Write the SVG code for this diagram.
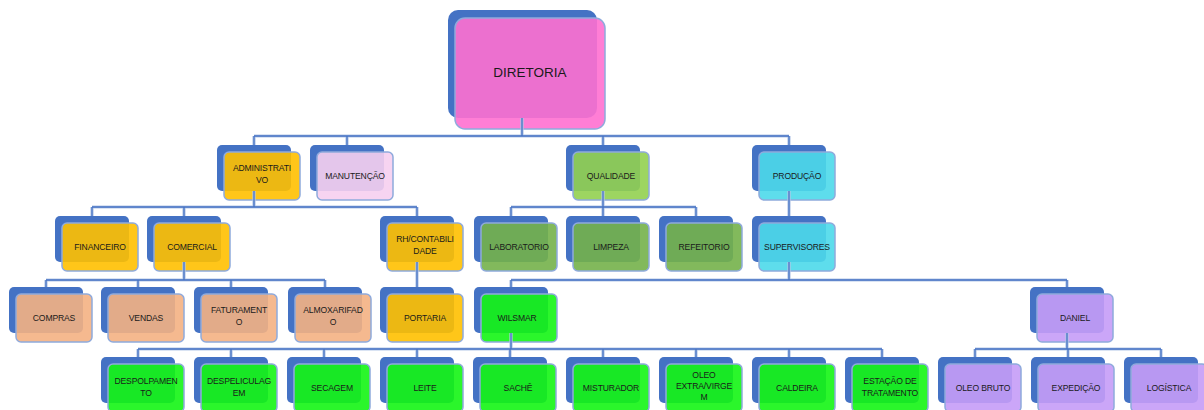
<svg xmlns="http://www.w3.org/2000/svg" width="1204" height="410" viewBox="0 0 1204 410">
<style>
.bk{fill:#4472C4}
.fr{stroke:#8FAADC;stroke-width:1.5;fill-opacity:0.9}
.t{font-family:"Liberation Sans",Arial,sans-serif;font-size:8.6px;fill:#1a1a1a;text-anchor:middle;letter-spacing:-0.15px}
.big{font-size:13.5px;letter-spacing:0}
.pink{fill:#FF70D0}
.yel{fill:#FFC000}
.lil{fill:#F6CFEF}
.lg{fill:#92D050}
.cy{fill:#4DD9EA}
.dg{fill:#74B14A}
.pe{fill:#F4B183}
.gr{fill:#14F514}
.lv{fill:#C59CF7}
.halo{fill:none;stroke:#B4C7E7;stroke-width:3.2}
.ln{fill:none;stroke:#4472C4;stroke-width:1.3}
</style>
<defs>
<rect id="b" class="bk" width="74" height="46" rx="5"/>
</defs>
<g id="nodes">
<g id="diretoria"><rect class="bk" x="448" y="10" width="149" height="108" rx="10"/><rect class="fr pink" x="455" y="18" width="150" height="111" rx="10"/><text class="t big" x="530" y="77">DIRETORIA</text></g>

<g id="administrativo"><use href="#b" x="217" y="145"/><rect class="fr yel" x="224" y="152" width="76" height="48" rx="5"/><text class="t" x="262" y="171">ADMINISTRATI</text><text class="t" x="262" y="183">VO</text></g>
<g id="manutencao"><use href="#b" x="310" y="145"/><rect class="fr lil" x="317" y="152" width="76" height="48" rx="5"/><text class="t" x="355" y="179">MANUTENÇÃO</text></g>
<g id="qualidade"><use href="#b" x="566" y="145"/><rect class="fr lg" x="573" y="152" width="76" height="48" rx="5"/><text class="t" x="611" y="179">QUALIDADE</text></g>
<g id="producao"><use href="#b" x="752" y="145"/><rect class="fr cy" x="759" y="152" width="76" height="48" rx="5"/><text class="t" x="797" y="179">PRODUÇÃO</text></g>

<g id="financeiro"><use href="#b" x="55" y="216"/><rect class="fr yel" x="62" y="223" width="76" height="48" rx="5"/><text class="t" x="100" y="250">FINANCEIRO</text></g>
<g id="comercial"><use href="#b" x="147" y="216"/><rect class="fr yel" x="154" y="223" width="76" height="48" rx="5"/><text class="t" x="192" y="250">COMERCIAL</text></g>
<g id="rh"><use href="#b" x="380" y="216"/><rect class="fr yel" x="387" y="223" width="76" height="48" rx="5"/><text class="t" x="425" y="242">RH/CONTABILI</text><text class="t" x="425" y="254">DADE</text></g>
<g id="laboratorio"><use href="#b" x="474" y="216"/><rect class="fr dg" x="481" y="223" width="76" height="48" rx="5"/><text class="t" x="519" y="250">LABORATORIO</text></g>
<g id="limpeza"><use href="#b" x="566" y="216"/><rect class="fr dg" x="573" y="223" width="76" height="48" rx="5"/><text class="t" x="611" y="250">LIMPEZA</text></g>
<g id="refeitorio"><use href="#b" x="659" y="216"/><rect class="fr dg" x="666" y="223" width="76" height="48" rx="5"/><text class="t" x="704" y="250">REFEITORIO</text></g>
<g id="supervisores"><use href="#b" x="752" y="216"/><rect class="fr cy" x="759" y="223" width="76" height="48" rx="5"/><text class="t" x="797" y="250">SUPERVISORES</text></g>

<g id="compras"><use href="#b" x="9" y="287"/><rect class="fr pe" x="16" y="294" width="76" height="48" rx="5"/><text class="t" x="54" y="321">COMPRAS</text></g>
<g id="vendas"><use href="#b" x="101" y="287"/><rect class="fr pe" x="108" y="294" width="76" height="48" rx="5"/><text class="t" x="146" y="321">VENDAS</text></g>
<g id="faturamento"><use href="#b" x="194" y="287"/><rect class="fr pe" x="201" y="294" width="76" height="48" rx="5"/><text class="t" x="239" y="313">FATURAMENT</text><text class="t" x="239" y="325">O</text></g>
<g id="almoxarifado"><use href="#b" x="288" y="287"/><rect class="fr pe" x="295" y="294" width="76" height="48" rx="5"/><text class="t" x="333" y="313">ALMOXARIFAD</text><text class="t" x="333" y="325">O</text></g>
<g id="portaria"><use href="#b" x="380" y="287"/><rect class="fr yel" x="387" y="294" width="76" height="48" rx="5"/><text class="t" x="425" y="321">PORTARIA</text></g>
<g id="wilsmar"><use href="#b" x="474" y="287"/><rect class="fr gr" x="481" y="294" width="76" height="48" rx="5"/><text class="t" x="517" y="321">WILSMAR</text></g>
<g id="daniel"><use href="#b" x="1030" y="287"/><rect class="fr lv" x="1037" y="294" width="76" height="48" rx="5"/><text class="t" x="1075" y="321">DANIEL</text></g>

<g id="despolpamento"><use href="#b" x="101" y="357"/><rect class="fr gr" x="108" y="364" width="76" height="48" rx="5"/><text class="t" x="146" y="384">DESPOLPAMEN</text><text class="t" x="146" y="396">TO</text></g>
<g id="despeliculagem"><use href="#b" x="194" y="357"/><rect class="fr gr" x="201" y="364" width="76" height="48" rx="5"/><text class="t" x="239" y="384">DESPELICULAG</text><text class="t" x="239" y="396">EM</text></g>
<g id="secagem"><use href="#b" x="287" y="357"/><rect class="fr gr" x="294" y="364" width="76" height="48" rx="5"/><text class="t" x="332" y="391">SECAGEM</text></g>
<g id="leite"><use href="#b" x="380" y="357"/><rect class="fr gr" x="387" y="364" width="76" height="48" rx="5"/><text class="t" x="425" y="391">LEITE</text></g>
<g id="sache"><use href="#b" x="473" y="357"/><rect class="fr gr" x="480" y="364" width="76" height="48" rx="5"/><text class="t" x="518" y="391">SACHÊ</text></g>
<g id="misturador"><use href="#b" x="566" y="357"/><rect class="fr gr" x="573" y="364" width="76" height="48" rx="5"/><text class="t" x="611" y="391">MISTURADOR</text></g>
<g id="oleo-extra"><use href="#b" x="659" y="357"/><rect class="fr gr" x="666" y="364" width="76" height="48" rx="5"/><text class="t" x="704" y="378">OLEO</text><text class="t" x="704" y="389">EXTRA/VIRGE</text><text class="t" x="704" y="400">M</text></g>
<g id="caldeira"><use href="#b" x="752" y="357"/><rect class="fr gr" x="759" y="364" width="76" height="48" rx="5"/><text class="t" x="797" y="391">CALDEIRA</text></g>
<g id="estacao"><use href="#b" x="845" y="357"/><rect class="fr gr" x="852" y="364" width="76" height="48" rx="5"/><text class="t" x="890" y="384">ESTAÇÃO DE</text><text class="t" x="890" y="396">TRATAMENTO</text></g>
<g id="oleo-bruto"><use href="#b" x="938" y="357"/><rect class="fr lv" x="945" y="364" width="76" height="48" rx="5"/><text class="t" x="983" y="391">OLEO BRUTO</text></g>
<g id="expedicao"><use href="#b" x="1031" y="357"/><rect class="fr lv" x="1038" y="364" width="76" height="48" rx="5"/><text class="t" x="1076" y="391">EXPEDIÇÃO</text></g>
<g id="logistica"><use href="#b" x="1124" y="357"/><rect class="fr lv" x="1131" y="364" width="76" height="48" rx="5"/><text class="t" x="1169" y="391">LOGÍSTICA</text></g>
</g>
<g id="connectors">
<path class="halo" d="M522 118V136M254 136H789M254 136V145M347 136V145M603 136V145M789 136V145
M254 191V207M92 207H417M92 207V216M184 207V216M417 207V216
M603 191V207M511 207H696M511 207V216M696 207V216M603 207V216M789 191V216
M184 262V280M46 280H325M46 280V287M138 280V287M231 280V287M325 280V287M417 262V287
M789 262V280M511 280H1067M511 280V287M1067 280V287
M511 333V349M138 349H882M138 349V357M231 349V357M324 349V357M417 349V357M510 349V357M603 349V357M696 349V357M789 349V357M882 349V357
M1067 333V349M975 349H1161M975 349V357M1068 349V357M1161 349V357"/>
<path class="ln" d="M522 118V136M254 136H789M254 136V145M347 136V145M603 136V145M789 136V145
M254 191V207M92 207H417M92 207V216M184 207V216M417 207V216
M603 191V207M511 207H696M511 207V216M696 207V216M603 207V216M789 191V216
M184 262V280M46 280H325M46 280V287M138 280V287M231 280V287M325 280V287M417 262V287
M789 262V280M511 280H1067M511 280V287M1067 280V287
M511 333V349M138 349H882M138 349V357M231 349V357M324 349V357M417 349V357M510 349V357M603 349V357M696 349V357M789 349V357M882 349V357
M1067 333V349M975 349H1161M975 349V357M1068 349V357M1161 349V357"/>
</g>
</svg>
